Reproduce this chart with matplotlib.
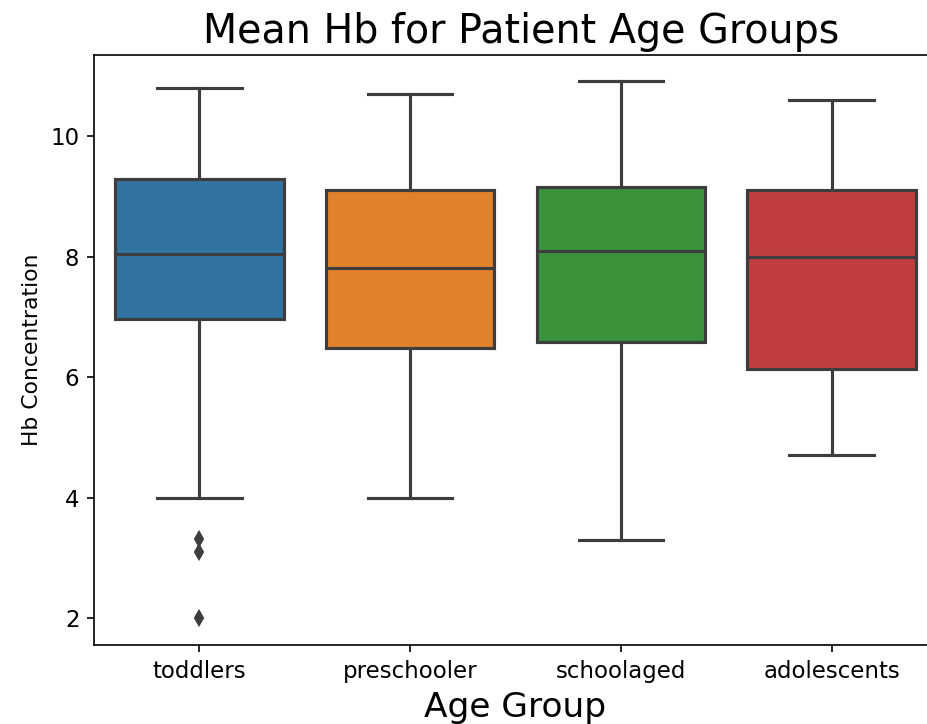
import matplotlib
matplotlib.use("Agg")
import matplotlib.pyplot as plt

categories = ["toddlers", "preschooler", "schoolaged", "adolescents"]
whislo = [4.0, 4.0, 3.3, 4.71]
q1 = [6.96, 6.48, 6.58, 6.13]
med = [8.04, 7.81, 8.09, 7.99]
q3 = [9.29, 9.10, 9.15, 9.10]
whishi = [10.8, 10.7, 10.91, 10.6]
fliers = [[3.31, 3.09, 2.0], [], [], []]
colors = ["#3274a1", "#e1812c", "#3a923a", "#c03d3e"]

fig = plt.figure(figsize=(927 / 150, 724 / 150), dpi=150)
ax = fig.add_axes([94 / 927, 1 - 645 / 724, 843 / 927, (645 - 55) / 724])

stats = []
for i, c in enumerate(categories):
    stats.append(dict(label=c, whislo=whislo[i], q1=q1[i], med=med[i],
                      q3=q3[i], whishi=whishi[i], fliers=fliers[i]))

gray = "#3d3d3d"
lw = 1.5
bp = ax.bxp(stats, positions=range(len(categories)), widths=0.8,
            patch_artist=True, showfliers=True,
            boxprops=dict(edgecolor=gray, linewidth=lw),
            medianprops=dict(color=gray, linewidth=lw),
            whiskerprops=dict(color=gray, linewidth=lw),
            capprops=dict(color=gray, linewidth=lw),
            flierprops=dict(marker="d", markersize=5, markerfacecolor=gray,
                            markeredgecolor=gray, linestyle="none"))
for patch, col in zip(bp["boxes"], colors):
    patch.set_facecolor(col)
for cap in bp["caps"]:
    xd = cap.get_xdata()
    cx = (xd[0] + xd[1]) / 2
    cap.set_xdata([cx - 0.2, cx + 0.2])

ax.set_xlim(-0.5, 3.5)
ax.set_ylim(1.555, 11.345)
ax.set_yticks([2, 4, 6, 8, 10])
ax.set_xticks(range(len(categories)))
ax.set_xticklabels(categories)
ax.tick_params(labelsize=11)
ax.set_title("Mean Hb for Patient Age Groups", fontsize=19, x=0.507)
ax.set_xlabel("Age Group", fontsize=16.5)
ax.set_ylabel("Hb Concentration", fontsize=10.5)

fig.savefig("out.png", dpi=150)
